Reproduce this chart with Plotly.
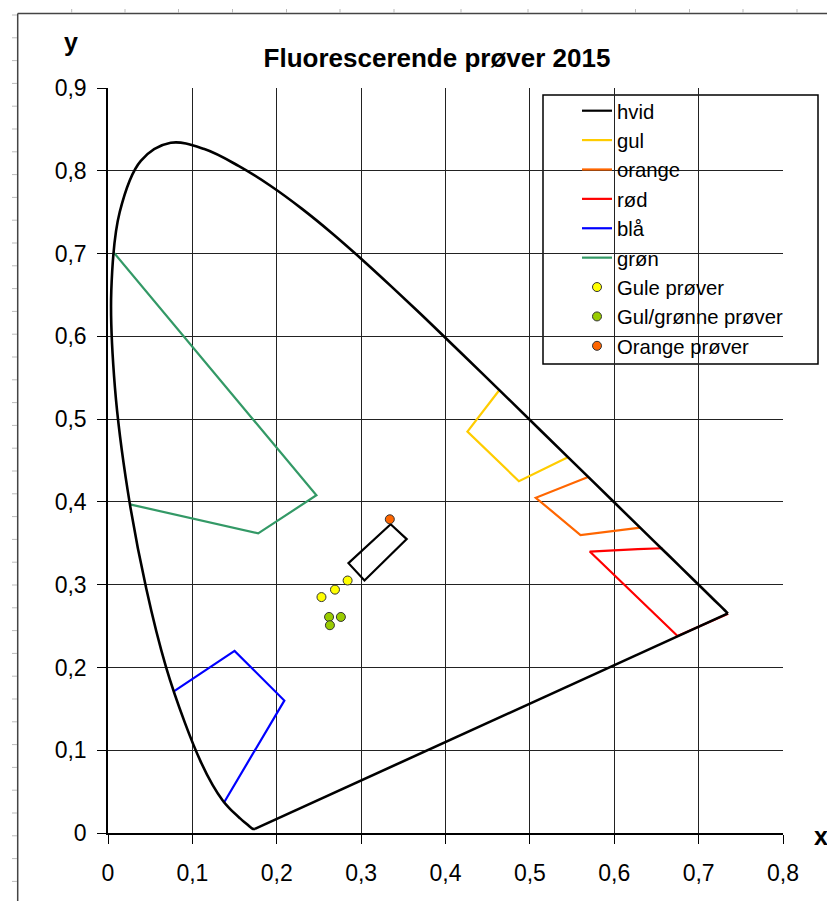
import plotly.graph_objects as go

# CIE 1931 spectral locus (380 nm .. 700 nm)
LOCUS_X = [0.1741, 0.1738, 0.1733, 0.1726, 0.1714, 0.1689, 0.1644, 0.1566, 0.1440, 0.1355,
           0.1241, 0.1096, 0.0913, 0.0687, 0.0454, 0.0235, 0.0082, 0.0039, 0.0139, 0.0389,
           0.0743, 0.1142, 0.1547, 0.1929, 0.2296, 0.2658, 0.3016, 0.3373, 0.3731, 0.4087,
           0.4441, 0.4788, 0.5125, 0.5448, 0.5752, 0.6029, 0.6270, 0.6482, 0.6658, 0.6915,
           0.7079, 0.7190, 0.7260, 0.7300, 0.7334, 0.7347]
LOCUS_Y = [0.0050, 0.0049, 0.0048, 0.0048, 0.0051, 0.0069, 0.0109, 0.0177, 0.0297, 0.0399,
           0.0578, 0.0868, 0.1327, 0.2007, 0.2950, 0.4127, 0.5384, 0.6548, 0.7502, 0.8120,
           0.8338, 0.8262, 0.8059, 0.7816, 0.7543, 0.7243, 0.6923, 0.6589, 0.6245, 0.5896,
           0.5547, 0.5202, 0.4866, 0.4544, 0.4242, 0.3965, 0.3725, 0.3514, 0.3340, 0.3083,
           0.2920, 0.2809, 0.2740, 0.2700, 0.2666, 0.2653]
# purple line closing the locus
PURPLE_X = [0.7347, 0.1741]
PURPLE_Y = [0.2653, 0.0050]

# colour regions
HVID_X = [0.335, 0.354, 0.304, 0.285, 0.335]
HVID_Y = [0.373, 0.355, 0.305, 0.326, 0.373]
GUL_X = [0.463, 0.426, 0.487, 0.545]
GUL_Y = [0.534, 0.485, 0.425, 0.454]
ORANGE_X = [0.569, 0.507, 0.560, 0.631]
ORANGE_Y = [0.430, 0.405, 0.360, 0.369]
ROD_X = [0.657, 0.628, 0.571, 0.675, 0.735]
ROD_Y = [0.344, 0.343, 0.340, 0.238, 0.265]
BLA_X = [0.078, 0.150, 0.209, 0.137]
BLA_Y = [0.171, 0.220, 0.160, 0.036]
GRON_X = [0.007, 0.247, 0.178, 0.026]
GRON_Y = [0.701, 0.408, 0.362, 0.397]

# samples
GULE_X = [0.253, 0.269, 0.284]
GULE_Y = [0.285, 0.294, 0.305]
GULGRONNE_X = [0.262, 0.276, 0.263]
GULGRONNE_Y = [0.261, 0.261, 0.251]
ORANGE_PR_X = [0.334]
ORANGE_PR_Y = [0.379]

X_TICKS = [0, 0.1, 0.2, 0.3, 0.4, 0.5, 0.6, 0.7, 0.8]
X_LABELS = ['0', '0,1', '0,2', '0,3', '0,4', '0,5', '0,6', '0,7', '0,8']
Y_TICKS = [0, 0.1, 0.2, 0.3, 0.4, 0.5, 0.6, 0.7, 0.8, 0.9]
Y_LABELS = ['0', '0,1', '0,2', '0,3', '0,4', '0,5', '0,6', '0,7', '0,8', '0,9']

FONT = 'Liberation Sans, Arial, sans-serif'

# page has an 8px body margin; figure sized so it fits the 835x909 window
OFF = 8
W, H = 835 - OFF, 909 - 2 * OFF
# plot area in window pixels
L, R, T, B = 108, 783, 88, 833


def px(x):
    return (x - L) / (R - L)


def py(y):
    return (B - y) / (B - T)


fig = go.Figure()

lines = [
    ('hvid', HVID_X, HVID_Y, 'black'),
    ('gul', GUL_X, GUL_Y, '#ffcc00'),
    ('orange', ORANGE_X, ORANGE_Y, '#ff6600'),
    ('rød', ROD_X, ROD_Y, '#ff0000'),
    ('blå', BLA_X, BLA_Y, '#0000ff'),
    ('grøn', GRON_X, GRON_Y, '#339966'),
]
for name, xs, ys, col in lines:
    fig.add_trace(go.Scatter(x=xs, y=ys, mode='lines', name=name,
                             line=dict(color=col, width=2.2)))

fig.add_trace(go.Scatter(x=LOCUS_X, y=LOCUS_Y, mode='lines', showlegend=False,
                         line=dict(color='black', width=2.6, shape='spline', smoothing=1)))
fig.add_trace(go.Scatter(x=PURPLE_X, y=PURPLE_Y, mode='lines', showlegend=False,
                         line=dict(color='black', width=2.6)))

points = [
    ('Gule prøver', GULE_X, GULE_Y, '#ffff00'),
    ('Gul/grønne prøver', GULGRONNE_X, GULGRONNE_Y, '#99cc00'),
    ('Orange prøver', ORANGE_PR_X, ORANGE_PR_Y, '#ff6600'),
]
for name, xs, ys, col in points:
    fig.add_trace(go.Scatter(x=xs, y=ys, mode='markers', name=name,
                             marker=dict(color=col, size=9,
                                         line=dict(color='#333333', width=1))))

shapes = []
# legend box
shapes.append(dict(type='rect', xref='paper', yref='paper',
                   x0=px(543), x1=px(818), y0=py(364), y1=py(95),
                   line=dict(color='black', width=1.5), fillcolor='white', layer='below'))
# chart-area frame with worksheet ticks
shapes.append(dict(type='line', xref='paper', yref='paper',
                   x0=px(17.7), x1=px(17.7), y0=py(13.5), y1=py(915),
                   line=dict(color='#444444', width=1.5)))
shapes.append(dict(type='line', xref='paper', yref='paper',
                   x0=px(17.7), x1=px(840), y0=py(13.5), y1=py(13.5),
                   line=dict(color='#444444', width=1.5)))
for k in range(40):
    ry = 15 + 22.8 * k
    if ry > 909:
        break
    shapes.append(dict(type='line', xref='paper', yref='paper',
                       x0=px(12), x1=px(17), y0=py(ry), y1=py(ry),
                       line=dict(color='#bbbbbb', width=1)))
for rx in [71.7, 125, 178.5, 232.5, 286.5, 340, 394, 461, 528, 582, 635.5, 689.5, 743, 797]:
    shapes.append(dict(type='line', xref='paper', yref='paper',
                       x0=px(rx), x1=px(rx), y0=py(9), y1=py(13),
                       line=dict(color='#bbbbbb', width=1)))

axis_common = dict(showgrid=True, gridcolor='#222222', gridwidth=1,
                   showline=True, linecolor='black', linewidth=1.5,
                   ticks='outside', ticklen=9, tickcolor='black', tickwidth=1,
                   zeroline=False, fixedrange=True,
                   tickfont=dict(family=FONT, size=23, color='black'))

fig.update_layout(
    width=W, height=H,
    margin=dict(l=L - OFF, r=OFF + W - R, t=T - OFF, b=OFF + H - B),
    paper_bgcolor='white', plot_bgcolor='white',
    title=dict(text='<b>Fluorescerende prøver 2015</b>', xref='paper', x=px(437),
               xanchor='center', y=1 - (58 - OFF) / H, yanchor='middle',
               font=dict(family=FONT, size=26, color='black')),
    xaxis=dict(range=[0, 0.8], tickvals=X_TICKS, ticktext=X_LABELS,
               ticklabelstandoff=10, **axis_common),
    yaxis=dict(range=[0, 0.9], tickvals=Y_TICKS, ticktext=Y_LABELS,
               ticklabelstandoff=6, **axis_common),
    legend=dict(x=px(577), y=py(91), xanchor='left', yanchor='top',
                bgcolor='rgba(0,0,0,0)', borderwidth=0,
                font=dict(family=FONT, size=20.3, color='black'),
                traceorder='normal'),
    shapes=shapes,
    annotations=[
        dict(text='<b>y</b>', xref='paper', yref='paper', x=px(71), y=py(42),
             xanchor='center', yanchor='middle',
             showarrow=False, font=dict(family=FONT, size=25, color='black')),
        dict(text='<b>x</b>', xref='paper', yref='paper', x=px(821), y=py(836),
             xanchor='center', yanchor='middle',
             showarrow=False, font=dict(family=FONT, size=25, color='black')),
    ],
)

fig.write_html('out.html')
